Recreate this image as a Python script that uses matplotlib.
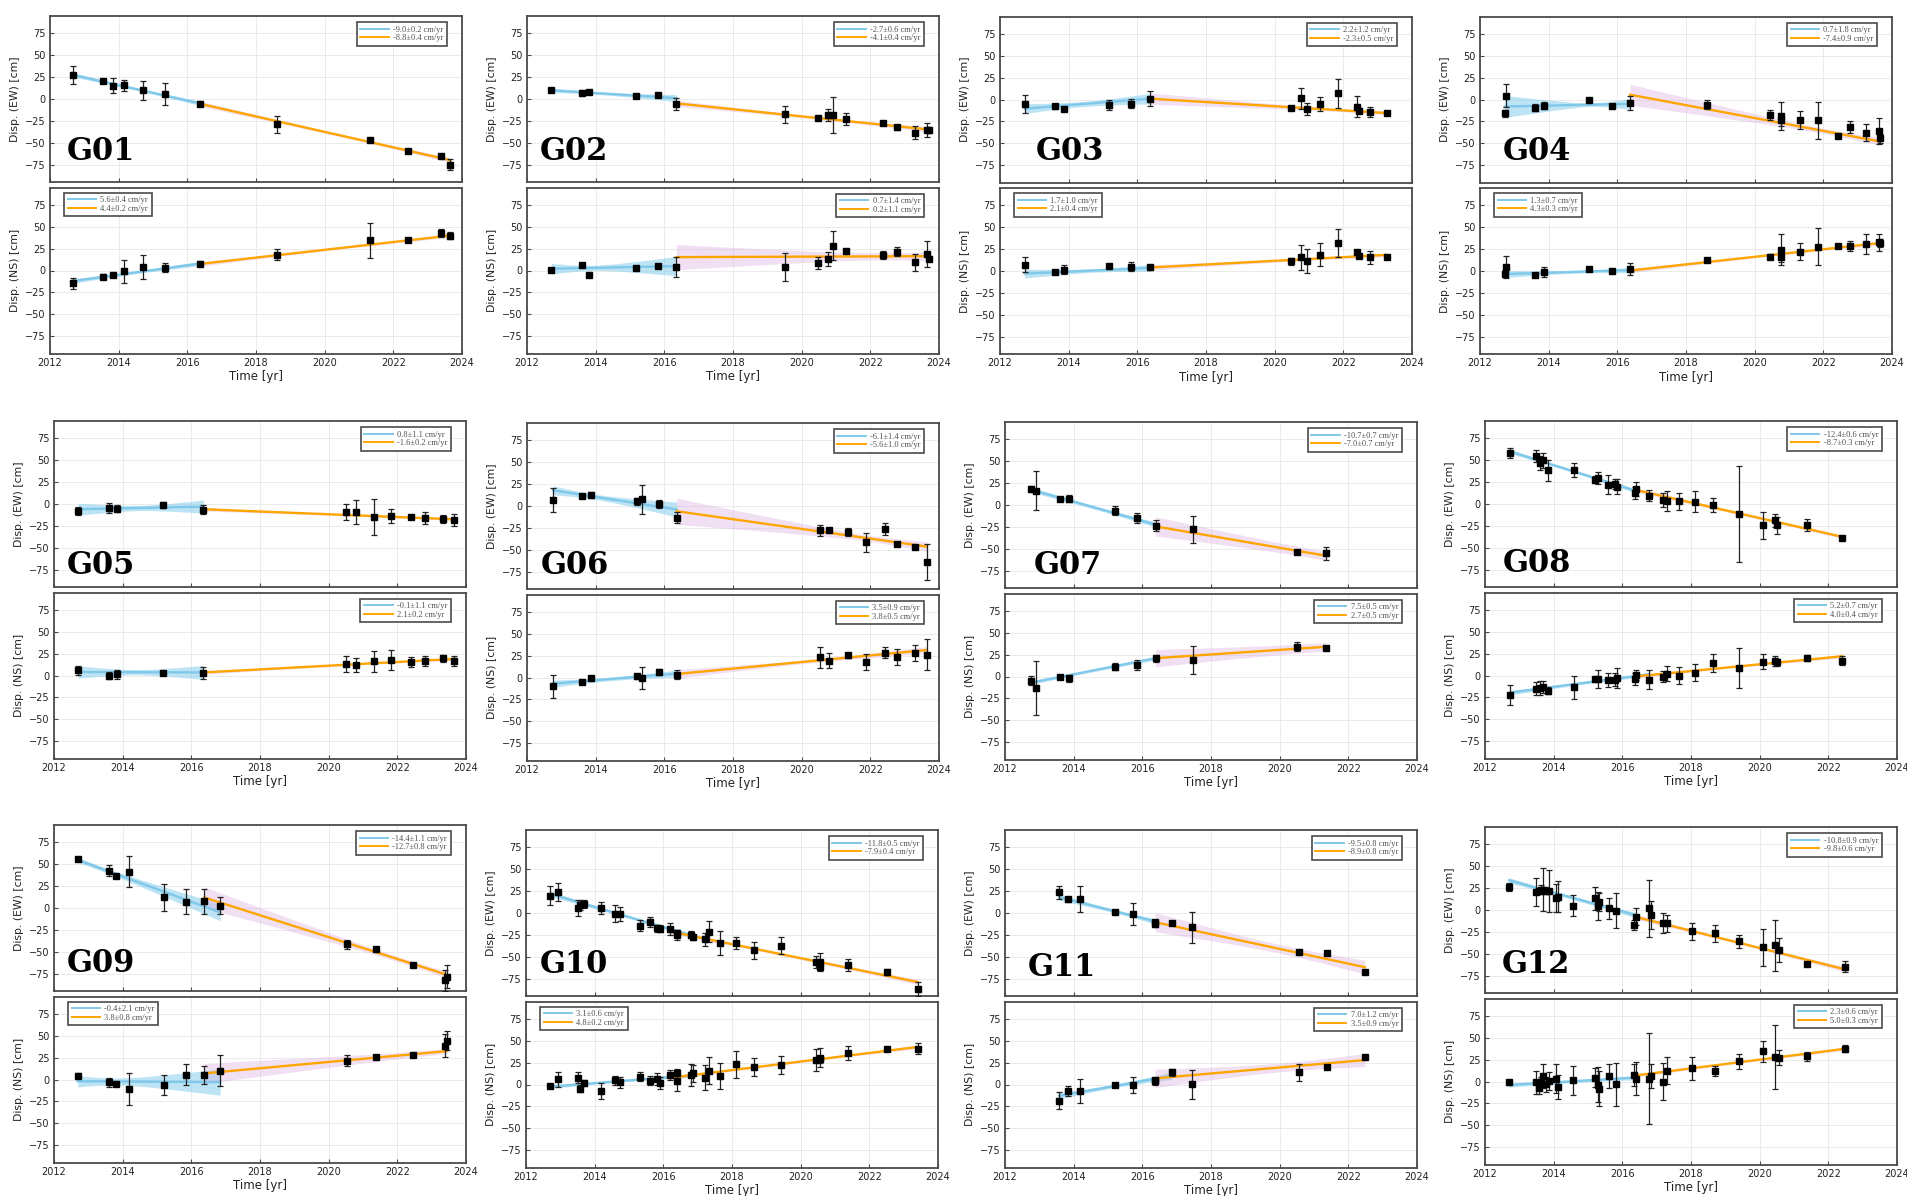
import numpy as np
import matplotlib
matplotlib.use('agg')
import matplotlib.pyplot as plt
from matplotlib.lines import Line2D

# ---------------- data ----------------
# per station: epochs, EW disp / error, NS disp / error  [cm]
# fits: (t0, t1, y0, y1, band at t0, narrowest band, band at t1), blue = early, orange = late
G01_T = [2012.68, 2013.55, 2013.83, 2014.16, 2014.70, 2015.35, 2016.37, 2018.62, 2021.32, 2022.43, 2023.39, 2023.66]
G01_EW = [27.4, 20.6, 15.2, 15.6, 9.9, 5.7, -5.3, -28.9, -46.8, -59.4, -65.1, -75.0]
G01_EW_ERR = [10.5, 2, 8.6, 6.5, 10.7, 12.4, 3, 9.7, 2, 2, 2, 6]
G01_NS = [-14.5, -7.3, -5.0, -0.8, 4.2, 3.1, 8.0, 18.0, 34.4, 35.2, 42.9, 39.8]
G01_NS_ERR = [6.3, 3, 2, 13, 14, 5, 3, 6.5, 20, 1.5, 5, 4]
G01_EW_FIT = [(2012.68, 2016.37, 27.5, -5, 2.5, 1.5, 2.5), (2016.37, 2023.66, -5.5, -70, 3, 1.5, 2.5)]
G01_NS_FIT = [(2012.68, 2016.37, -12, 8, 2.5, 1.5, 2.5), (2016.37, 2023.66, 7.5, 40, 2.5, 1, 2)]
G01_EW_RATE = ['-9.0±0.2 cm/yr', '-8.8±0.4 cm/yr']
G01_NS_RATE = ['5.6±0.4 cm/yr', '4.4±0.2 cm/yr']

G02_T = [2012.71, 2013.59, 2013.82, 2015.17, 2015.83, 2016.35, 2019.50, 2020.49, 2020.78, 2020.91, 2021.28, 2022.37, 2022.77, 2023.30, 2023.66, 2023.72]
G02_EW = [10.3, 7.0, 8.4, 3.4, 4.2, -5.7, -17.6, -21.4, -18.3, -18.3, -22.9, -27.1, -32.4, -38.5, -35.5, -35.5]
G02_EW_ERR = [1, 3, 1.5, 1.5, 2, 7, 10, 1, 7, 21, 7, 1.5, 3, 7.5, 8, 3]
G02_NS = [1.1, 6.1, -4.6, 3.1, 5.0, 3.8, 4.2, 8.4, 13.0, 28.6, 22.1, 17.6, 21.4, 9.5, 19.0, 13.7]
G02_NS_ERR = [1.5, 1.5, 1.5, 1.5, 1.5, 11.5, 16, 6.5, 8, 17, 2, 5, 5, 9.5, 15, 3]
G02_EW_FIT = [(2012.71, 2016.35, 10, 1, 2.5, 1.5, 4), (2016.35, 2023.72, -5, -35, 3.5, 1.5, 3)]
G02_NS_FIT = [(2012.71, 2016.35, 2, 5, 6, 3, 11), (2016.35, 2023.72, 15.3, 16.4, 14.5, 4, 5)]
G02_EW_RATE = ['-2.7±0.6 cm/yr', '-4.1±0.4 cm/yr']
G02_NS_RATE = ['0.7±1.4 cm/yr', '0.2±1.1 cm/yr']

G03_T = [2012.72, 2013.61, 2013.85, 2015.18, 2015.83, 2016.37, 2020.48, 2020.78, 2020.95, 2021.31, 2021.84, 2022.39, 2022.45, 2022.78, 2023.26]
G03_EW = [-5.3, -7.6, -10.7, -6.5, -4.6, 1.1, -9.5, 1.5, -11.1, -5.3, 6.9, -8.4, -12.6, -14.1, -16.0]
G03_EW_ERR = [10, 3, 2, 6, 5.5, 9, 1.5, 12, 7, 8, 17, 12, 3, 5.7, 1.5]
G03_NS = [7.3, -0.8, 1.5, 5.7, 5.0, 4.2, 11.1, 15.6, 11.8, 18.7, 32.0, 21.4, 16.8, 15.6, 16.0]
G03_NS_ERR = [8.4, 1, 5, 2, 5.5, 3, 4, 14, 13.7, 13.3, 15.6, 2.5, 2, 7.5, 2.5]
G03_EW_FIT = [(2012.72, 2016.37, -10.5, 1, 5.5, 3, 6), (2016.37, 2023.26, 1, -15.5, 6.5, 1.5, 2)]
G03_NS_FIT = [(2012.72, 2016.37, -3, 3.5, 5, 2, 4), (2016.37, 2023.26, 4, 18.5, 3, 1.5, 2)]
G03_EW_RATE = ['2.2±1.2 cm/yr', '-2.3±0.5 cm/yr']
G03_NS_RATE = ['1.7±1.0 cm/yr', '2.1±0.4 cm/yr']

G04_T = [2012.72, 2012.75, 2013.61, 2013.85, 2015.18, 2015.84, 2016.37, 2018.62, 2020.46, 2020.77, 2020.78, 2021.31, 2021.84, 2022.43, 2022.77, 2023.24, 2023.63, 2023.64]
G04_EW = [-15.6, 4.2, -9.2, -6.9, -0.8, -6.9, -3.8, -6.1, -17.9, -19.0, -24.0, -23.7, -24.0, -42.0, -31.3, -38.2, -35.9, -44.3]
G04_EW_ERR = [4, 13, 3.5, 3.5, 1, 1, 8, 5, 6, 15.6, 6, 10, 21.5, 1.5, 6.7, 9.7, 14.7, 5]
G04_NS = [-3.4, 4.6, -4.2, -0.8, 2.7, 0.0, 1.9, 12.2, 16.4, 24.4, 16.0, 22.1, 27.9, 28.6, 28.2, 30.9, 32.8, 32.0]
G04_NS_ERR = [4, 12.8, 2, 5.7, 1, 1, 6.7, 1.5, 3, 17.6, 6, 9.5, 21, 1.5, 5.7, 12, 10, 5]
G04_EW_FIT = [(2012.72, 2016.37, -8, -5, 12.5, 2, 6), (2016.37, 2023.64, 5.5, -48, 12, 3, 4.5)]
G04_NS_FIT = [(2012.72, 2016.37, -3.5, 1, 4, 1.5, 3), (2016.37, 2023.64, 0.5, 32, 2.5, 1, 2)]
G04_EW_RATE = ['0.7±1.8 cm/yr', '-7.4±0.9 cm/yr']
G04_NS_RATE = ['1.3±0.7 cm/yr', '4.3±0.3 cm/yr']

G05_T = [2012.70, 2013.61, 2013.83, 2015.17, 2016.35, 2020.51, 2020.81, 2021.33, 2021.83, 2022.41, 2022.80, 2023.32, 2023.65]
G05_EW = [-8.4, -4.6, -5.4, -1.5, -6.5, -9.2, -9.2, -15.0, -13.4, -15.0, -16.1, -17.6, -18.0]
G05_EW_ERR = [4.6, 5.6, 4, 3.5, 5.5, 9, 14, 20.5, 8, 2, 6.5, 4.6, 6.7]
G05_NS = [6.1, 0.0, 1.5, 3.4, 3.1, 13.0, 11.9, 16.5, 17.6, 15.3, 16.8, 19.9, 16.8]
G05_NS_ERR = [5, 4.5, 5, 2, 7, 9.5, 8, 12, 11.5, 5.5, 6, 4, 6]
G05_EW_FIT = [(2012.70, 2016.35, -6, -3, 7, 3, 7.5), (2016.35, 2023.65, -6, -17.5, 2, 1, 1.5)]
G05_NS_FIT = [(2012.70, 2016.35, 4, 3.5, 7, 3, 8), (2016.35, 2023.65, 3.5, 19, 2, 1, 1.5)]
G05_EW_RATE = ['0.8±1.1 cm/yr', '-1.6±0.2 cm/yr']
G05_NS_RATE = ['-0.1±1.1 cm/yr', '2.1±0.2 cm/yr']

G06_T = [2012.76, 2013.61, 2013.85, 2015.19, 2015.36, 2015.85, 2016.36, 2020.52, 2020.80, 2021.34, 2021.87, 2022.43, 2022.78, 2023.31, 2023.65]
G06_EW = [6.9, 11.8, 12.2, 5.3, 7.6, 2.3, -13.4, -27.9, -27.1, -29.8, -41.6, -26.0, -43.5, -46.6, -64.1]
G06_EW_ERR = [14, 1.5, 3.5, 4, 17, 4.8, 6.3, 6.7, 2, 4.8, 10.5, 6.7, 2, 1.5, 21]
G06_NS = [-9.9, -5.3, -0.8, 1.5, -0.4, 6.1, 3.1, 22.9, 19.1, 25.6, 17.6, 28.6, 23.3, 27.9, 26.0]
G06_NS_ERR = [13, 1.5, 1.5, 3, 12.4, 3.5, 5, 12.4, 8.6, 3, 9.5, 6.3, 9, 9, 17.8]
G06_EW_FIT = [(2012.76, 2016.36, 18, -4, 5, 3, 8.5), (2016.36, 2023.65, -6, -46.5, 15, 3.5, 5.5)]
G06_NS_FIT = [(2012.76, 2016.36, -7, 4.5, 4, 2, 4), (2016.36, 2023.65, 4, 31.5, 5, 2, 4)]
G06_EW_RATE = ['-6.1±1.4 cm/yr', '-5.6±1.0 cm/yr']
G06_NS_RATE = ['3.5±0.9 cm/yr', '3.8±0.5 cm/yr']

G07_T = [2012.76, 2012.89, 2013.61, 2013.85, 2015.21, 2015.84, 2016.39, 2017.47, 2020.51, 2021.34]
G07_EW = [18.3, 16.4, 6.5, 7.2, -6.5, -14.8, -23.6, -27.8, -53.7, -55.2]
G07_EW_ERR = [3.5, 22.5, 2, 4, 5.3, 6, 6.5, 15.4, 2, 7.2]
G07_NS = [-4.9, -12.9, -0.8, -1.9, 11.0, 13.7, 20.9, 18.7, 34.3, 33.1]
G07_NS_ERR = [5, 30.6, 1.5, 4, 4, 5.7, 4, 16, 5.3, 2]
G07_EW_FIT = [(2012.76, 2016.39, 17.5, -22.5, 3, 2, 3), (2016.39, 2021.34, -24.5, -58, 11, 5, 5)]
G07_NS_FIT = [(2012.76, 2016.39, -7, 21, 2, 1.5, 2), (2016.39, 2021.34, 21, 34, 10, 5, 5)]
G07_EW_RATE = ['-10.7±0.7 cm/yr', '-7.0±0.7 cm/yr']
G07_NS_RATE = ['7.5±0.5 cm/yr', '2.7±0.5 cm/yr']

G08_T = [2012.74, 2013.48, 2013.59, 2013.69, 2013.84, 2014.58, 2015.19, 2015.30, 2015.58, 2015.79, 2015.84, 2016.36, 2016.40,
         2016.79, 2017.18, 2017.31, 2017.64, 2018.11, 2018.63, 2019.40, 2020.09, 2020.44, 2020.51, 2021.37, 2022.40]
G08_EW = [58.3, 55.2, 47.2, 49.9, 38.4, 39.1, 28.0, 29.9, 22.2, 23.0, 19.6, 12.7, 17.3,
          9.6, 4.6, 3.5, 3.1, 2.7, -1.5, -11.9, -24.5, -18.8, -24.5, -23.8, -38.7]
G08_EW_ERR = [5.4, 7, 8, 8.6, 12, 8, 3.7, 6.5, 11, 5.4, 8.6, 6.5, 8.4, 6.3, 8.2, 11, 9.6, 12, 8.2, 55, 15, 7.8, 10, 7, 2]
G08_NS = [-22.2, -15.0, -14.2, -13.0, -17.2, -13.4, -3.8, -4.2, -5.4, -4.6, -2.7, -3.8, 0.4,
          -4.6, -1.5, 1.9, 0.0, 3.1, 14.2, 8.8, 15.7, 16.5, 15.3, 19.9, 16.9]
G08_NS_ERR = [11.5, 7, 7.7, 6.7, 3.7, 13.4, 2, 10.5, 7.7, 7.5, 11.5, 6.7, 5.7, 11, 6.5, 8.6, 10, 9.6, 10, 23, 8.4, 6, 4, 3, 5]
G08_EW_FIT = [(2012.74, 2016.40, 60, 15, 2.5, 1.5, 2.5), (2016.40, 2022.40, 16, -37.5, 2.5, 1.5, 2)]
G08_NS_FIT = [(2012.74, 2016.79, -19.5, 1.5, 2.5, 1.5, 2), (2016.40, 2022.40, -1, 22, 2, 1, 2)]
G08_EW_RATE = ['-12.4±0.6 cm/yr', '-8.7±0.3 cm/yr']
G08_NS_RATE = ['5.2±0.7 cm/yr', '4.0±0.4 cm/yr']

G09_T = [2012.69, 2013.59, 2013.82, 2014.17, 2015.19, 2015.85, 2016.38, 2016.84, 2020.54, 2021.37, 2022.47, 2023.40, 2023.45]
G09_EW = [56.5, 42.7, 37.0, 41.6, 12.2, 7.3, 7.6, 2.7, -41.6, -47.0, -65.3, -82.8, -78.6]
G09_EW_ERR = [2, 6.3, 2, 17.4, 15.6, 14, 14.5, 9.7, 4.8, 2, 1.5, 12.4, 13.4]
G09_NS = [4.2, -3.1, -5.7, -10.7, -6.1, 5.7, 5.0, 10.3, 21.4, 26.3, 28.2, 38.9, 44.3]
G09_NS_ERR = [3, 5, 2, 18.3, 11.8, 12.4, 10.7, 17.4, 6.3, 2, 2, 13, 10.7]
G09_EW_FIT = [(2012.69, 2016.84, 55, -5, 3, 2.5, 9.5), (2016.38, 2023.45, 12, -76.5, 12, 3, 4)]
G09_NS_FIT = [(2012.69, 2016.84, -2, -3, 6.5, 4, 15), (2016.38, 2023.45, 7, 32.5, 11.5, 3, 3)]
G09_EW_RATE = ['-14.4±1.1 cm/yr', '-12.7±0.8 cm/yr']
G09_NS_RATE = ['-0.4±2.1 cm/yr', '3.8±0.8 cm/yr']

G10_T = [2012.70, 2012.92, 2013.50, 2013.58, 2013.69, 2014.17, 2014.60, 2014.73, 2015.32, 2015.60, 2015.81, 2015.89, 2016.19, 2016.39, 2016.40,
         2016.82, 2016.85, 2017.20, 2017.32, 2017.64, 2018.11, 2018.65, 2019.42, 2020.46, 2020.56, 2020.57, 2021.39, 2022.50, 2023.41]
G10_EW = [19.8, 24.0, 5.7, 8.8, 10.3, 5.7, -0.8, -1.1, -14.5, -10.3, -17.2, -17.9, -17.9, -24.8, -22.9,
          -24.8, -27.9, -30.2, -21.4, -34.0, -34.0, -42.7, -37.4, -55.7, -56.1, -62.2, -59.5, -67.6, -87.0]
G10_EW_ERR = [11, 10.5, 9, 5.7, 5, 7.3, 10, 8, 6, 6, 4, 4, 7, 5.7, 3, 4, 3, 7.6, 11.8, 13.7, 7, 9.4, 10, 7, 10.5, 3, 7.3, 3, 8]
G10_NS = [-1.9, 6.1, 8.0, -4.6, 1.9, -7.6, 4.6, 2.7, 8.8, 4.2, 6.5, 1.9, 10.7, 12.6, 4.2,
          10.7, 12.6, 8.0, 16.0, 9.5, 22.9, 20.2, 22.1, 28.2, 30.9, 29.0, 36.3, 40.1, 41.2]
G10_NS_ERR = [2, 8.6, 6.7, 3.5, 3.5, 9, 5, 6.3, 5, 5, 7, 7, 6, 4.8, 12, 12.8, 9.6, 14, 15.3, 15, 15, 10.3, 10, 12.4, 10.5, 4, 8, 2, 6.7]
G10_EW_FIT = [(2012.70, 2016.85, 22, -26, 3, 1.5, 2.5), (2016.17, 2023.41, -21, -79, 2.5, 1.5, 3)]
G10_NS_FIT = [(2012.70, 2016.85, -2.5, 10.5, 2, 1, 2), (2016.17, 2023.41, 7.5, 43, 2, 1, 2)]
G10_EW_RATE = ['-11.8±0.5 cm/yr', '-7.9±0.4 cm/yr']
G10_NS_RATE = ['3.1±0.6 cm/yr', '4.8±0.2 cm/yr']

G11_T = [2013.58, 2013.83, 2014.17, 2015.21, 2015.73, 2016.36, 2016.37, 2016.85, 2017.46, 2020.55, 2021.37, 2022.48]
G11_EW = [23.7, 15.5, 16.1, 1.1, -1.1, -10.0, -12.6, -11.9, -16.5, -45.2, -45.9, -67.7]
G11_EW_ERR = [7.7, 3, 15, 2, 13, 2, 3, 2, 17.6, 2, 2, 2]
G11_NS = [-18.4, -7.3, -7.6, -0.8, -0.4, 3.8, 5.7, 13.8, 0.4, 13.8, 20.3, 31.4]
G11_NS_ERR = [10, 6, 14, 2, 9, 4, 2, 4, 16.5, 9.6, 2, 2]
G11_EW_FIT = [(2013.58, 2016.37, 18, -9.5, 3.5, 2, 3), (2016.37, 2022.48, -10.5, -62, 11, 5, 8)]
G11_NS_FIT = [(2013.58, 2016.85, -13, 10, 3.5, 2, 4), (2016.37, 2022.48, 7, 28, 10.5, 5, 7.5)]
G11_EW_RATE = ['-9.5±0.8 cm/yr', '-8.9±0.8 cm/yr']
G11_NS_RATE = ['7.0±1.2 cm/yr', '3.5±0.9 cm/yr']

G12_T = [2012.70, 2013.48, 2013.58, 2013.63, 2013.70, 2013.78, 2013.85, 2014.07, 2014.14, 2014.55, 2015.20, 2015.30, 2015.33, 2015.60, 2015.81,
         2016.34, 2016.40, 2016.79, 2016.84, 2017.18, 2017.30, 2018.02, 2018.70, 2019.40, 2020.09, 2020.44, 2020.55, 2021.37, 2022.49]
G12_EW = [26.4, 20.7, 21.4, 23.3, 23.3, 22.0, 21.4, 13.8, 15.3, 5.0, 13.4, 5.0, 9.2, 1.9, -0.8,
          -16.8, -7.6, 1.9, -6.1, -14.5, -15.3, -24.5, -26.8, -36.0, -42.9, -40.6, -45.9, -61.6, -64.7]
G12_EW_ERR = [5, 16, 3, 5.4, 25, 4, 24, 16, 17.6, 12, 13, 16, 10, 12, 19.7, 5.7, 10, 33, 16, 11.3, 10, 9.6, 10, 7, 21.6, 29, 13.4, 2.5, 6]
G12_NS = [-1.1, -1.1, -7.3, 0.0, 6.1, -3.4, 0.8, 3.4, -6.1, 1.5, 4.2, -3.8, -8.4, 6.1, -3.4,
          7.3, 3.4, 3.4, 6.5, 0.0, 12.2, 14.9, 12.2, 23.0, 34.4, 28.3, 27.2, 28.7, 37.5]
G12_NS_ERR = [3, 13, 7, 5, 13.5, 9, 10, 16.7, 14, 16.5, 11, 20, 20, 13.4, 25, 12.8, 18.6, 52, 14, 21.4, 15.3, 12.8, 5.4, 9, 12, 36.4, 8.4, 4.8, 4]
G12_EW_FIT = [(2012.70, 2016.40, 34, -6, 3, 2, 3), (2016.40, 2022.49, -8, -68, 3, 1.5, 3)]
G12_NS_FIT = [(2012.70, 2016.40, -4, 4.5, 2.5, 1.5, 2.5), (2016.40, 2022.49, 7, 37.5, 2, 1, 2)]
G12_EW_RATE = ['-10.8±0.9 cm/yr', '-9.8±0.6 cm/yr']
G12_NS_RATE = ['2.3±0.6 cm/yr', '5.0±0.3 cm/yr']

NAMES = ['G01', 'G02', 'G03', 'G04', 'G05', 'G06', 'G07', 'G08', 'G09', 'G10', 'G11', 'G12']
NS_LEGEND_LEFT = ['G01', 'G03', 'G04', 'G09', 'G10']

# ---------------- layout (pixels in the 1907x1196 figure) ----------------
FIG_W, FIG_H = 1907, 1196
PANEL_LEFT = [50, 527, 1000, 1480, 54, 527, 1005, 1485, 54, 526, 1005, 1485]
PANEL_TOP = [16, 16, 16.5, 16.5, 421, 423, 422, 421, 825, 830, 830, 827]
PANEL_W, SUB_H, SUB_GAP = 412, 166, 5.5
TAG_POS = [(0.04, 0.13), (0.03, 0.13), (0.087, 0.135), (0.056, 0.135),
           (0.03, 0.08), (0.034, 0.09), (0.07, 0.085), (0.044, 0.09),
           (0.03, 0.115), (0.034, 0.14), (0.056, 0.12), (0.04, 0.12)]

BLUE = '#7fc8ea'
BLUE_BAND = '#87ceeb'
ORANGE = '#ffa500'
PURPLE_BAND = '#d9a6dd'
FRAME = '#4a4a4a'


def add_axes(left, top, h):
    return fig.add_axes([left / FIG_W, 1 - (top + h) / FIG_H, PANEL_W / FIG_W, h / FIG_H])


def draw_fit(ax, fit, line_color, band_color, band_alpha):
    t0, t1, y0, y1, w0, wm, w1 = fit
    tt = np.linspace(t0, t1, 60)
    yy = y0 + (y1 - y0) * (tt - t0) / (t1 - t0)
    a = np.sqrt(max(w0 ** 2 - wm ** 2, 0))
    b = np.sqrt(max(w1 ** 2 - wm ** 2, 0))
    if a + b == 0:
        ww = np.full_like(tt, wm)
    else:
        tbar = (b * t0 + a * t1) / (a + b)
        sb = (a + b) / (t1 - t0)
        ww = np.sqrt(wm ** 2 + sb ** 2 * (tt - tbar) ** 2)
    ax.fill_between(tt, yy - ww, yy + ww, color=band_color, alpha=band_alpha, lw=0, zorder=1)
    ax.plot([t0, t1], [y0, y1], color=line_color, lw=1.7, zorder=2)


def style_axes(ax, ylabel, show_x):
    ax.set_xlim(2012, 2024)
    ax.set_ylim(-95, 95)
    ax.set_xticks(np.arange(2012, 2025, 2))
    ax.set_yticks([-75, -50, -25, 0, 25, 50, 75])
    ax.grid(True, color='#e8e8e8', lw=0.6, zorder=0)
    ax.set_axisbelow(True)
    for s in ax.spines.values():
        s.set_color(FRAME)
        s.set_linewidth(1.3)
    ax.tick_params(direction='in', length=3, width=0.8, color=FRAME,
                   labelsize=7, labelcolor='#222222', pad=3)
    ax.set_ylabel(ylabel, fontsize=7.8, color='#222222', labelpad=4)
    if show_x:
        ax.set_xlabel('Time [yr]', fontsize=8.5, color='#222222', labelpad=2)
    else:
        ax.tick_params(labelbottom=False)


def draw_component(ax, t, y, err, fits, rates, legend_left):
    draw_fit(ax, fits[0], BLUE, BLUE_BAND, 0.55)
    draw_fit(ax, fits[1], ORANGE, PURPLE_BAND, 0.35)
    ax.errorbar(t, y, yerr=err, fmt='s', color='black', ms=4, ecolor='#222222',
                elinewidth=0.9, capsize=2.2, capthick=0.9, zorder=3)
    handles = [Line2D([0], [0], color=BLUE, lw=1.4), Line2D([0], [0], color=ORANGE, lw=1.4)]
    if legend_left:
        loc, anchor = 'upper left', (14 / PANEL_W, 1 - 5 / SUB_H)
    else:
        loc, anchor = 'upper right', (1 - 15 / PANEL_W, 1 - 6 / SUB_H)
    leg = ax.legend(handles, rates, loc=loc, bbox_to_anchor=anchor, borderaxespad=0,
                    fancybox=False, framealpha=1, edgecolor=FRAME,
                    prop={'family': 'Liberation Serif', 'size': 6},
                    handlelength=3.4, handletextpad=0.5, labelspacing=0.05,
                    borderpad=0.45)
    leg.get_frame().set_linewidth(1.2)
    for txt in leg.get_texts():
        txt.set_color('#505050')


fig = plt.figure(figsize=(FIG_W / 100, FIG_H / 100), dpi=100)

for i, name in enumerate(NAMES):
    g = globals()
    t = g[name + '_T']
    left, top = PANEL_LEFT[i], PANEL_TOP[i]

    ax_ew = add_axes(left, top, SUB_H)
    style_axes(ax_ew, 'Disp. (EW) [cm]', False)
    draw_component(ax_ew, t, g[name + '_EW'], g[name + '_EW_ERR'],
                   g[name + '_EW_FIT'], g[name + '_EW_RATE'], False)
    tx, ty = TAG_POS[i]
    ax_ew.text(tx, ty, name, transform=ax_ew.transAxes, ha='left', va='baseline',
               fontsize=22, fontweight='bold', family='DejaVu Serif', zorder=5)

    ax_ns = add_axes(left, top + SUB_H + SUB_GAP, SUB_H)
    style_axes(ax_ns, 'Disp. (NS) [cm]', True)
    draw_component(ax_ns, t, g[name + '_NS'], g[name + '_NS_ERR'],
                   g[name + '_NS_FIT'], g[name + '_NS_RATE'], name in NS_LEGEND_LEFT)

fig.savefig('out.png', dpi=100)
plt.close(fig)
